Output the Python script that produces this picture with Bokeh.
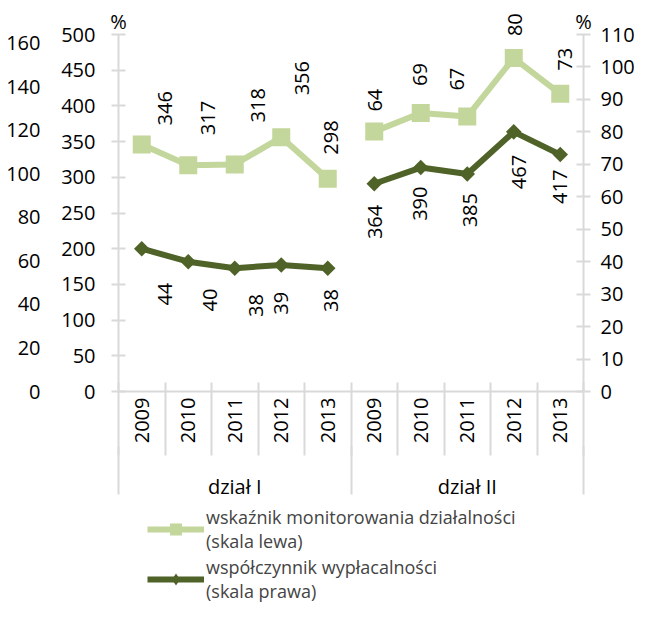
import numpy as np
from bokeh.plotting import figure
from bokeh.layouts import column
from bokeh.models import (LinearAxis, Range1d, FixedTicker, ColumnDataSource,
                          Legend, LegendItem)
from bokeh.embed import file_html
from bokeh.resources import INLINE
from bokeh.core.properties import value

# ---------------- data ----------------
years = ["2009", "2010", "2011", "2012", "2013"]
groups = ["dział I", "dział II"]
wskaznik_dzial_I = [346, 317, 318, 356, 298]       # left scale, %
wskaznik_dzial_II = [364, 390, 385, 467, 417]
wyplac_dzial_I = [44, 40, 38, 39, 38]              # right scale, %
wyplac_dzial_II = [64, 69, 67, 80, 73]
series_names = ["wskaźnik monitorowania działalności\n(skala lewa)",
                "współczynnik wypłacalności\n(skala prawa)"]
unit_label = "%"
left_ticks = [0, 50, 100, 150, 200, 250, 300, 350, 400, 450, 500]
outer_ticks = [0, 20, 40, 60, 80, 100, 120, 140, 160]
right_ticks = [0, 10, 20, 30, 40, 50, 60, 70, 80, 90, 100, 110]

# label placement nudges in pixels (as in the reference)
upper_dx = [23, 20, 23, 21, 3, 1, -1, -10, 1, 5]
upper_gap = [19, 30, 42, 42, 24, 20, 27, 26, 22, 23]
lower_dx = [23, 22, 21, 0, 3, 1, -1, 3, 5, 0]
lower_gap = [34, 27, 26, 27, 21, 21, 19, 19, 23, 15]

# ---------------- style ----------------
FONT = "Open Sans"
FS = "20px"
LIGHT = "#C3D69B"
DARK = "#4F6228"
GRID = "#D9D9D9"
W = 637
H_MAIN = 507
H_LEG = 96
HEAD = 22 / 357          # head-room above the scale top, as a share of the scale

n = len(years)
x_I = list(range(1, n + 1))
x_II = list(range(n + 1, 2 * n + 1))
x_all = x_I + x_II
light_all = wskaznik_dzial_I + wskaznik_dzial_II
dark_all = wyplac_dzial_I + wyplac_dzial_II
x_lo, x_hi = 0.5, 2 * n + 0.5
L_TOP, R_TOP, O_TOP = 500, 110, 164.1

p = figure(width=W, height=H_MAIN, output_backend="svg", toolbar_location=None,
           x_range=Range1d(x_lo, x_hi), y_range=Range1d(0, L_TOP * (1 + HEAD)),
           min_border_left=118, min_border_right=51, min_border_top=12,
           min_border_bottom=116)
p.extra_y_ranges = {"right": Range1d(0, R_TOP * (1 + HEAD)),
                    "outer": Range1d(0, O_TOP * (1 + HEAD))}
p.outline_line_color = None
p.xgrid.visible = False
p.ygrid.visible = False
p.background_fill_color = "white"

xa = p.below[0]   # default x axis -> year axis
ya = p.left[0]    # default y axis -> inner left axis

# lines (broken between groups)
lx = x_I + [np.nan] + x_II
ly = wskaznik_dzial_I + [np.nan] + wskaznik_dzial_II
dy_ = wyplac_dzial_I + [np.nan] + wyplac_dzial_II
light_line = dict(line_color=LIGHT, line_width=6)
light_mark = dict(marker="square", size=18, fill_color=LIGHT, line_color=None)
dark_line = dict(line_color=DARK, line_width=6)
dark_mark = dict(marker="square", angle=np.pi / 4, size=11, fill_color=DARK, line_color=None)

p.line(lx, ly, **light_line)
p.scatter(x_all, light_all, **light_mark)
p.line(lx, dy_, y_range_name="right", **dark_line)
p.scatter(x_all, dark_all, y_range_name="right", **dark_mark)

# data labels (as placed in the reference: upper row above the light line,
# lower row below the dark line)
upper_text = [str(v) for v in wskaznik_dzial_I + wyplac_dzial_II]
lower_text = [str(v) for v in wyplac_dzial_I + wskaznik_dzial_II]
src_up = ColumnDataSource(dict(x=x_all, y=light_all, text=upper_text,
                               dx=upper_dx, dy=[-g for g in upper_gap]))
src_lo = ColumnDataSource(dict(x=x_all, y=dark_all, text=lower_text,
                               dx=lower_dx, dy=lower_gap))
p.text(x="x", y="y", text="text", source=src_up, angle=np.pi / 2,
       text_align="left", text_baseline="middle", x_offset="dx", y_offset="dy",
       text_font=value(FONT), text_font_size=FS, text_color="black")
p.text(x="x", y="y", text="text", source=src_lo, angle=np.pi / 2, y_range_name="right",
       text_align="right", text_baseline="middle", x_offset="dx", y_offset="dy",
       text_font=value(FONT), text_font_size=FS, text_color="black")


def style_axis(ax):
    ax.major_label_text_font = FONT
    ax.major_label_text_font_size = FS
    ax.major_label_text_color = "black"


# inner left axis (0-500)
ya.ticker = FixedTicker(ticks=left_ticks)
ya.bounds = (0, L_TOP)
ya.axis_line_color = GRID
ya.axis_line_width = 2
ya.major_tick_line_color = GRID
ya.major_tick_line_width = 2
ya.major_tick_in = 7
ya.major_tick_out = 7
ya.minor_tick_line_color = None
ya.major_label_standoff = 16
style_axis(ya)

# outer left axis (0-160)
outer = LinearAxis(y_range_name="outer", ticker=FixedTicker(ticks=outer_ticks),
                   axis_line_color=None, major_tick_line_color=None,
                   minor_tick_line_color=None, major_tick_in=0, major_tick_out=0,
                   major_label_standoff=18)
style_axis(outer)
p.add_layout(outer, "left")

# right axis (0-110)
ra = LinearAxis(y_range_name="right", ticker=FixedTicker(ticks=right_ticks),
                bounds=(0, R_TOP),
                axis_line_color=GRID, axis_line_width=2,
                major_tick_line_color=GRID, major_tick_line_width=2,
                major_tick_in=7, major_tick_out=7, minor_tick_line_color=None,
                major_label_standoff=10)
style_axis(ra)
p.add_layout(ra, "right")

# "%" unit marks just above the top of both value axes
ua = LinearAxis(ticker=FixedTicker(ticks=[x_lo, x_hi]),
                major_label_overrides={x_lo: unit_label, x_hi: unit_label},
                axis_line_color=None, major_tick_line_color=None,
                minor_tick_line_color=None, major_tick_in=0, major_tick_out=0,
                major_label_standoff=-22)
style_axis(ua)
p.add_layout(ua, "above")

# year axis (separators drawn as long minor ticks)
xa.ticker = FixedTicker(ticks=x_all, minor_ticks=[i + 0.5 for i in range(2 * n + 1)])
xa.major_label_overrides = {x: years[i % n] for i, x in enumerate(x_all)}
xa.major_label_orientation = np.pi / 2
xa.major_tick_line_color = None
xa.major_tick_in = 0
xa.major_tick_out = 0
xa.minor_tick_line_color = GRID
xa.minor_tick_line_width = 2
xa.minor_tick_in = 9
xa.minor_tick_out = 64
xa.axis_line_color = GRID
xa.axis_line_width = 2
xa.major_label_standoff = -58
style_axis(xa)

# group axis
gx = [(n + 1) / 2, n + (n + 1) / 2]
ga = LinearAxis(ticker=FixedTicker(ticks=gx, minor_ticks=[x_lo, n + 0.5, x_hi]),
                major_label_overrides={gx[0]: groups[0], gx[1]: groups[1]},
                axis_line_color=None, major_tick_line_color=None,
                major_tick_in=0, major_tick_out=0,
                minor_tick_line_color=GRID, minor_tick_line_width=2,
                minor_tick_in=0, minor_tick_out=48, major_label_standoff=-22)
style_axis(ga)
p.add_layout(ga, "below")

# ---------------- legend (own strip below the chart) ----------------
q = figure(width=W, height=H_LEG, output_backend="svg", toolbar_location=None,
           x_range=Range1d(0, 1), y_range=Range1d(0, 1),
           min_border_left=118, min_border_right=0, min_border_top=0,
           min_border_bottom=0, x_axis_type=None, y_axis_type=None)
q.outline_line_color = None
q.grid.visible = False
far = [-1000, -999]
ql1 = q.line(far, far, **light_line)
qs1 = q.scatter(far[:1], far[:1], marker="square", size=12, fill_color=LIGHT, line_color=None)
ql2 = q.line(far, far, **dark_line)
qs2 = q.scatter(far[:1], far[:1], marker="diamond", size=12, fill_color=DARK, line_color=None)
legend = Legend(items=[LegendItem(label=series_names[0], renderers=[ql1, qs1]),
                       LegendItem(label=series_names[1], renderers=[ql2, qs2])],
                location=(29, 0), orientation="vertical",
                glyph_width=57, glyph_height=30, label_standoff=2, spacing=2,
                label_width=420, padding=0, margin=0, border_line_color=None,
                background_fill_alpha=0, label_text_font=FONT,
                label_text_font_size="18px", label_text_line_height=1.1)
q.add_layout(legend)

layout = column(p, q, spacing=0)
open("out.html", "w").write(file_html(layout, INLINE))
